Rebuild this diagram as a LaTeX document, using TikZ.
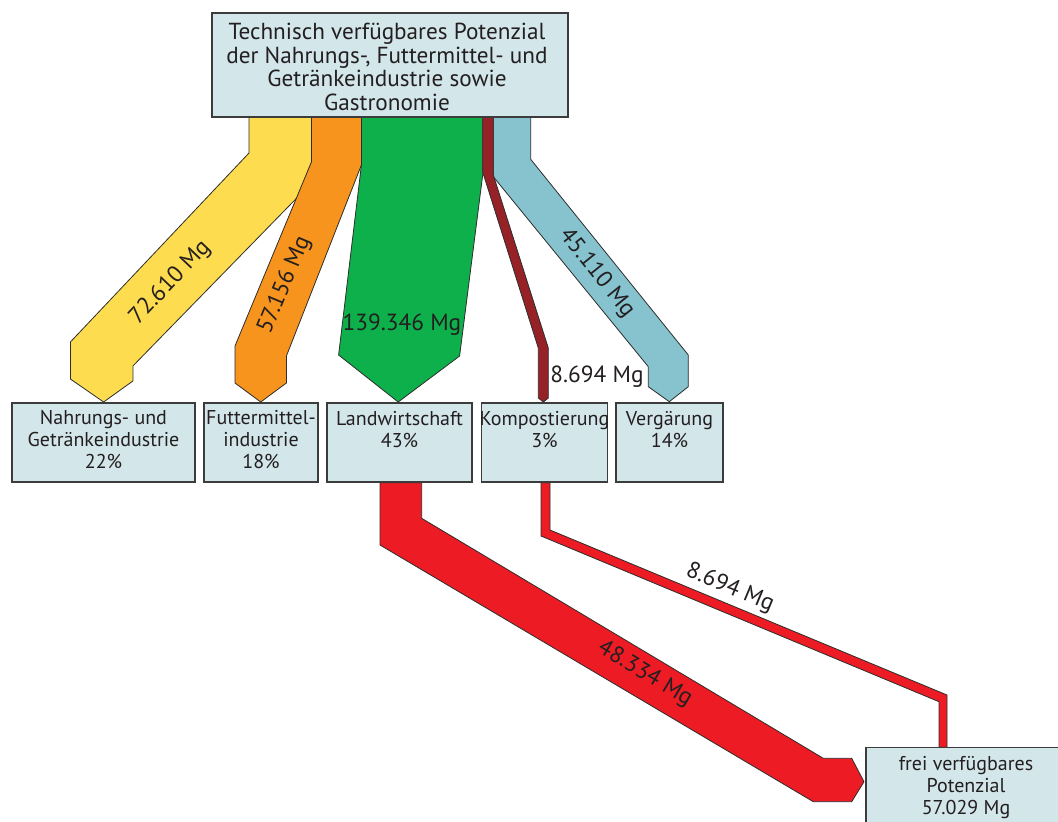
\documentclass[tikz,border=0pt]{standalone}
\usepackage{fontspec}
\setmainfont{PT Sans}
\usetikzlibrary{fit}
\definecolor{boxfill}{RGB}{211,230,234}
\definecolor{boxline}{RGB}{60,60,60}
\definecolor{flowline}{RGB}{45,45,45}
\definecolor{txt}{RGB}{35,31,32}
\definecolor{cyellow}{RGB}{254,220,80}
\definecolor{corange}{RGB}{247,148,29}
\definecolor{cgreen}{RGB}{13,176,75}
\definecolor{cdarkred}{RGB}{150,34,40}
\definecolor{clightblue}{RGB}{134,195,206}
\definecolor{cred}{RGB}{237,28,36}
\begin{document}
\begin{tikzpicture}[x=0.75pt,y=-0.75pt,
  boxst/.style={draw=boxline, fill=boxfill, line width=0.9pt, inner sep=0pt},
  flowst/.style={draw=flowline, line width=0.6pt, line join=miter},
  lbl/.style={text=txt, font=\fontsize{17.5}{18}\selectfont, inner sep=0pt},
  boxtxt/.style={text=txt, align=center, font=\fontsize{15}{16.3}\selectfont, inner sep=0pt},
  toptxt/.style={text=txt, align=center, font=\fontsize{17.4}{17.55}\selectfont, inner sep=0pt}]
\useasboundingbox (0,0) rectangle (1058,822);
\clip (0,0) rectangle (1058,822);

% flows from the top box
\filldraw[flowst, fill=cyellow] (249,117) -- (249,153) -- (70.4,342) -- (70.4,379) -- (103.6,402) -- (132.9,381) -- (132.9,366) -- (311.4,183) -- (311.4,117) -- cycle;
\filldraw[flowst, fill=corange] (311.4,117) -- (311.4,162) -- (235,346) -- (235,383) -- (260.7,402) -- (286.4,383) -- (286.4,356) -- (361.4,165) -- (361.4,117) -- cycle;
\filldraw[flowst, fill=cgreen] (361.4,117) -- (361.4,165) -- (338.6,355) -- (398.2,402) -- (459.6,356) -- (482.7,175) -- (482.7,117) -- cycle;
\filldraw[flowst, fill=clightblue] (493.3,117) -- (493.3,176.7) -- (648.3,366.7) -- (648.3,386.7) -- (669.3,401.7) -- (688.3,386.7) -- (688.3,355) -- (530.7,159.3) -- (530.7,117) -- cycle;
\filldraw[flowst, fill=cdarkred] (482.7,117) -- (482.7,172) -- (538.3,348) -- (538.3,398) -- (543.3,402) -- (548.3,398) -- (548.3,348) -- (493.3,175) -- (493.3,117) -- cycle;

% flows to the free potential
\filldraw[flowst, fill=cred] (380,482.7) -- (380,545) -- (813.3,801.7) -- (851.7,801.7) -- (864,781.7) -- (851.7,758.3) -- (823.3,758.3) -- (421.7,518.3) -- (421.7,482.7) -- cycle;
\filldraw[flowst, fill=cred] (541,482.7) -- (541,536) -- (939,701.7) -- (939,747.3) -- (947,747.3) -- (947,695) -- (550,530) -- (550,482.7) -- cycle;

% boxes
\node[boxst, fit={(212,13) (568,117)}] (top) {};
\node[boxst, fit={(12,403) (195,482)}] (nahr) {};
\node[boxst, fit={(204,403) (318,482)}] (futt) {};
\node[boxst, fit={(327,403) (472,482)}] (land) {};
\node[boxst, fit={(481.5,403) (607.5,482)}] (komp) {};
\node[boxst, fit={(616,403) (723,482)}] (verg) {};
\node[boxst, fit={(866,747.3) (1066,840)}] (frei) {};

% box texts (anchor base = baseline of the last line)
\node[toptxt, anchor=base] (toptext) at (387,110) {Technisch verfügbares Potenzial\\der Nahrungs-, Futtermittel- und\\Getränkeindustrie sowie\\Gastronomie};
\node[boxtxt, anchor=base] (nahrtext) at (103.5,468.3) {Nahrungs- und\\Getränkeindustrie\\22\%};
\node[boxtxt, anchor=base] (futttext) at (261,468.3) {Futtermittel-\\industrie\\18\%};
\node[boxtxt, anchor=base] (landtext) at (399.5,447.5) {Landwirtschaft\\43\%};
\node[boxtxt, anchor=base] (komptext) at (544.5,447.5) {Kompostierung\\3\%};
\node[boxtxt, anchor=base] (vergtext) at (669.5,447.5) {Vergärung\\14\%};
\node[boxtxt, anchor=base] (freitext) at (966,814) {frei verfügbares\\Potenzial\\57.029 Mg};

% flow labels
\node[lbl, rotate=46.5] (l1) at (170.4,282.7) {72.610 Mg};
\node[lbl, rotate=67.4] (l2) at (284.6,285) {57.156 Mg};
\node[lbl, anchor=base] (l3) at (402,330) {139.346 Mg};
\node[lbl, rotate=-51] (l4) at (596.7,273.3) {45.110 Mg};
\node[lbl, anchor=base] (l5) at (597,382.7) {8.694 Mg};
\node[lbl, rotate=-30.8] (l6) at (645,674) {48.334 Mg};
\node[lbl, rotate=-22.6] (l7) at (730,588.3) {8.694 Mg};
\end{tikzpicture}
\end{document}
